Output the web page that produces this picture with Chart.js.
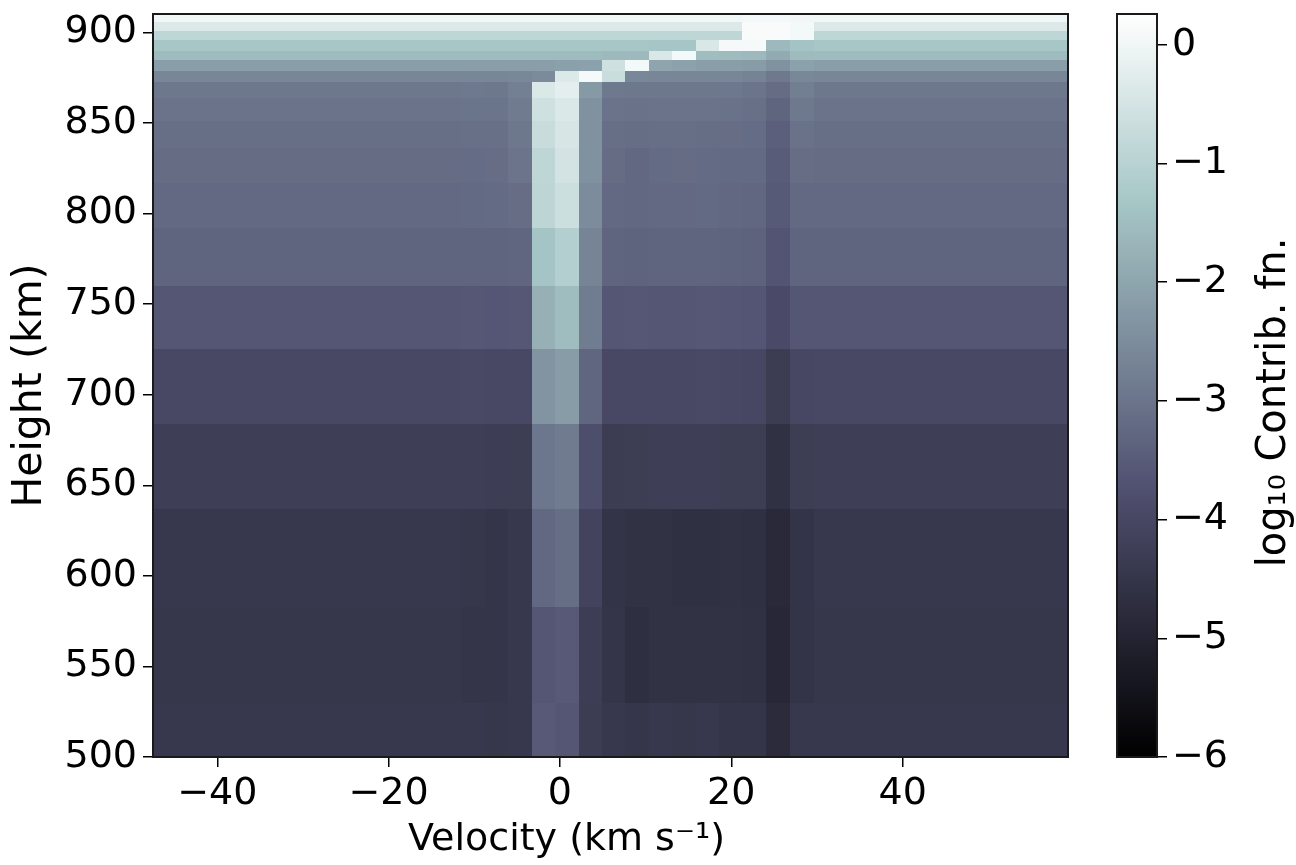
<!DOCTYPE html>
<html>
<head>
<meta charset="utf-8">
<script src="https://cdn.jsdelivr.net/npm/chart.js@4.4.1/dist/chart.umd.min.js"></script>
<style>
  body { margin: 0; background: #fff; }
  #wrap { position: relative; width: 1296px; height: 865px; }
  #heat { position: absolute; left: 0; top: 0; }
  #cbar { position: absolute; left: 1090px; top: 0; }
</style>
</head>
<body>
<div id="wrap">
  <canvas id="heat" width="1090" height="865"></canvas>
  <canvas id="cbar" width="206" height="865"></canvas>
</div>
<script>
// velocity band edges (km/s) and height band edges (km)
const velocityEdges = [-47.5, -14.3, -11.5, -8.8, -6.1, -3.3, -0.6, 2.2, 4.9, 7.6, 10.4, 13.1, 15.9, 18.6, 21.3, 24.1, 26.8, 29.6, 59.3];
const heightEdges = [500, 530, 583, 637, 684, 725, 760, 792, 817, 836, 851, 864, 872.5, 879, 884.6, 890, 895.7, 901, 906, 910.2];

// log10 contribution function, one row per height band (bottom up), one value per velocity band
const logCF = [
  [-4.45, -4.45, -4.45, -4.47, -4.45, -3.56, -3.63, -4.32, -4.45, -4.48, -4.45, -4.47, -4.45, -4.50, -4.52, -4.80, -4.45, -4.45],
  [-4.47, -4.47, -4.50, -4.50, -4.45, -3.63, -3.56, -4.29, -4.50, -4.67, -4.60, -4.60, -4.60, -4.60, -4.62, -4.90, -4.55, -4.47],
  [-4.45, -4.45, -4.47, -4.50, -4.45, -3.26, -3.14, -4.11, -4.55, -4.60, -4.60, -4.65, -4.65, -4.63, -4.65, -4.84, -4.55, -4.45],
  [-4.25, -4.25, -4.25, -4.28, -4.30, -2.97, -2.86, -3.83, -4.33, -4.30, -4.27, -4.25, -4.27, -4.30, -4.30, -4.62, -4.30, -4.25],
  [-3.97, -3.97, -3.95, -3.97, -3.99, -2.36, -2.19, -3.30, -3.99, -3.97, -3.99, -3.97, -3.95, -3.98, -4.00, -4.32, -4.00, -3.97],
  [-3.63, -3.63, -3.60, -3.62, -3.60, -1.79, -1.54, -2.85, -3.63, -3.60, -3.63, -3.63, -3.60, -3.62, -3.65, -3.91, -3.63, -3.63],
  [-3.34, -3.34, -3.32, -3.33, -3.30, -1.38, -1.09, -2.69, -3.34, -3.36, -3.34, -3.33, -3.34, -3.36, -3.38, -3.67, -3.34, -3.34],
  [-3.23, -3.23, -3.22, -3.20, -3.15, -0.93, -0.65, -2.52, -3.23, -3.25, -3.23, -3.23, -3.22, -3.25, -3.27, -3.55, -3.23, -3.23],
  [-3.18, -3.18, -3.17, -3.15, -3.01, -0.89, -0.53, -2.40, -3.18, -3.25, -3.20, -3.18, -3.20, -3.22, -3.22, -3.50, -3.15, -3.18],
  [-3.12, -3.12, -3.10, -3.10, -2.93, -0.71, -0.46, -2.40, -3.12, -3.14, -3.12, -3.12, -3.13, -3.15, -3.17, -3.44, -3.05, -3.12],
  [-3.03, -3.03, -3.02, -3.00, -2.87, -0.62, -0.38, -2.40, -3.03, -3.05, -3.03, -3.03, -3.04, -3.05, -3.10, -3.34, -2.90, -3.03],
  [-2.93, -2.93, -2.92, -2.93, -2.77, -0.38, -0.21, -2.24, -2.90, -2.93, -2.93, -2.93, -2.93, -2.95, -3.00, -3.18, -2.80, -2.93],
  [-2.64, -2.64, -2.63, -2.62, -2.60, -2.55, -0.36, 0.10, -0.70, -2.60, -2.64, -2.64, -2.62, -2.64, -2.70, -2.90, -2.60, -2.64],
  [-2.15, -2.15, -2.15, -2.15, -2.15, -2.15, -2.12, -2.10, -0.60, 0.05, -2.00, -2.10, -2.15, -2.15, -2.20, -2.40, -2.10, -2.15],
  [-1.56, -1.56, -1.56, -1.56, -1.56, -1.56, -1.56, -1.56, -1.60, -1.60, -0.40, 0.05, -1.50, -1.56, -1.60, -1.90, -1.56, -1.56],
  [-1.32, -1.32, -1.32, -1.32, -1.32, -1.32, -1.32, -1.32, -1.32, -1.32, -1.35, -1.35, -0.40, 0.10, 0.10, -1.60, -1.40, -1.32],
  [-0.89, -0.89, -0.89, -0.89, -0.89, -0.89, -0.89, -0.89, -0.89, -0.89, -0.89, -0.89, -0.89, -0.90, 0.15, 0.15, 0.05, -0.89],
  [-0.35, -0.35, -0.35, -0.35, -0.35, -0.35, -0.35, -0.35, -0.35, -0.35, -0.35, -0.35, -0.35, -0.35, 0.15, 0.15, 0.05, -0.35],
  [0.00, 0.00, 0.00, 0.00, 0.00, 0.00, 0.00, 0.00, 0.00, 0.00, 0.00, 0.00, 0.00, 0.00, 0.05, 0.05, 0.02, 0.00]
];

const velocityTicks = [-40, -20, 0, 20, 40];
const heightTicks = [500, 550, 600, 650, 700, 750, 800, 850, 900];
const cbarTicks = [-6, -5, -4, -3, -2, -1, 0];
const cMin = -6, cMax = 0.26;

// matplotlib "bone" colormap
function bone(t) {
  t = Math.max(0, Math.min(1, t));
  const r = t < 0.746032 ? 0.652778 * t / 0.746032 : 0.652778 + (t - 0.746032) * 0.347222 / 0.253968;
  const g = t < 0.365079 ? 0.319444 * t / 0.365079
    : t < 0.746032 ? 0.319444 + (t - 0.365079) * 0.458334 / 0.380953
    : 0.777778 + (t - 0.746032) * 0.222222 / 0.253968;
  const b = t < 0.365079 ? 0.444444 * t / 0.365079 : 0.444444 + (t - 0.365079) * 0.555556 / 0.634921;
  return `rgb(${Math.round(r * 255)},${Math.round(g * 255)},${Math.round(b * 255)})`;
}

const minus = v => String(v).replace('-', '\u2212');

Chart.defaults.font.family = 'DejaVu Sans';
Chart.defaults.font.size = 38;
Chart.defaults.color = '#000';
Chart.defaults.animation = false;

const cells = [];
logCF.forEach((row, i) => {
  row.forEach((v, j) => {
    cells.push({
      x: (velocityEdges[j] + velocityEdges[j + 1]) / 2,
      y: (heightEdges[i] + heightEdges[i + 1]) / 2,
      x0: velocityEdges[j], x1: velocityEdges[j + 1],
      y0: heightEdges[i], y1: heightEdges[i + 1],
      v: v
    });
  });
});

const heatPlugin = {
  id: 'heatCells',
  beforeDatasetsDraw(chart) {
    const { ctx, scales: { x, y } } = chart;
    ctx.save();
    chart.data.datasets[0].data.forEach(c => {
      const l = Math.round(x.getPixelForValue(c.x0)), r = Math.round(x.getPixelForValue(c.x1));
      const t = Math.round(y.getPixelForValue(c.y1)), b = Math.round(y.getPixelForValue(c.y0));
      ctx.fillStyle = bone((c.v - cMin) / (cMax - cMin));
      ctx.fillRect(l, t, r - l, b - t);
    });
    ctx.restore();
  },
  afterDatasetsDraw(chart) {
    const { ctx, chartArea: a } = chart;
    ctx.save();
    ctx.strokeStyle = '#1a1a1a';
    ctx.lineWidth = 2;
    ctx.strokeRect(a.left, a.top, a.width, a.height);
    // x axis title, sits a little left of the axis centre in the original
    ctx.font = '38px DejaVu Sans';
    ctx.fillStyle = '#000';
    ctx.textAlign = 'center';
    ctx.textBaseline = 'middle';
    ctx.fillText('Velocity (km s\u207B\u00B9)', (a.left + a.right) / 2 - 44, a.bottom + 83);
    ctx.restore();
  }
};

const tickGrid = { drawOnChartArea: false, drawTicks: true, tickLength: 10, color: '#000', lineWidth: 1.5 };
const noPad = s => { s.paddingTop = 0; s.paddingBottom = 0; s.paddingLeft = 0; s.paddingRight = 0; };

new Chart(document.getElementById('heat'), {
  type: 'scatter',
  data: { datasets: [{ data: cells, pointRadius: 0, pointHoverRadius: 0 }] },
  options: {
    responsive: false,
    devicePixelRatio: 1,
    layout: { padding: { top: 14, right: 22, left: 0, bottom: 0 } },
    plugins: { legend: { display: false }, tooltip: { enabled: false } },
    scales: {
      x: {
        type: 'linear', min: -47.5, max: 59.3,
        afterBuildTicks: s => { s.ticks = velocityTicks.map(v => ({ value: v })); },
        afterFit: s => { s.height = 108; noPad(s); },
        ticks: { padding: 4, maxRotation: 0, callback: v => minus(v) },
        grid: tickGrid,
        border: { display: false }
      },
      y: {
        type: 'linear', min: 500, max: 910.2,
        afterBuildTicks: s => { s.ticks = heightTicks.map(v => ({ value: v })); },
        afterFit: s => { s.width = 153; noPad(s); },
        ticks: { padding: 6 },
        grid: tickGrid,
        border: { display: false },
        title: { display: true, text: 'Height (km)', font: { size: 41 }, padding: { top: 6, bottom: 0 } }
      }
    }
  },
  plugins: [heatPlugin]
});

const cbarPlugin = {
  id: 'cbarFill',
  beforeDatasetsDraw(chart) {
    const { ctx, chartArea: a, scales: { y } } = chart;
    const g = ctx.createLinearGradient(0, y.getPixelForValue(cMin), 0, y.getPixelForValue(cMax));
    [0, 0.365079, 0.746032, 1].forEach(t => g.addColorStop(t, bone(t)));
    ctx.save();
    ctx.fillStyle = g;
    ctx.fillRect(a.left, a.top, a.width, a.height);
    ctx.restore();
  },
  afterDraw(chart) {
    const { ctx, chartArea: a } = chart;
    ctx.save();
    ctx.strokeStyle = '#1a1a1a';
    ctx.lineWidth = 2;
    ctx.strokeRect(a.left, a.top, a.width, a.height);
    ctx.translate(a.right + 118, (a.top + a.bottom) / 2 + 17);
    ctx.rotate(-Math.PI / 2);
    ctx.font = '40px DejaVu Sans';
    ctx.fillStyle = '#000';
    ctx.textAlign = 'center';
    ctx.textBaseline = 'middle';
    ctx.fillText('log\u2081\u2080 Contrib. fn.', 0, 0);
    ctx.restore();
  }
};

new Chart(document.getElementById('cbar'), {
  type: 'bar',
  data: { labels: [''], datasets: [] },
  options: {
    responsive: false,
    devicePixelRatio: 1,
    layout: { padding: { top: 14, right: 0, left: 27, bottom: 108 } },
    plugins: { legend: { display: false }, tooltip: { enabled: false } },
    scales: {
      x: { display: false },
      y: {
        position: 'right', min: cMin, max: cMax,
        afterBuildTicks: s => { s.ticks = cbarTicks.map(v => ({ value: v })); },
        afterFit: s => { s.width = 139; noPad(s); },
        ticks: { padding: 5, callback: v => minus(v) },
        grid: tickGrid,
        border: { display: false }
      }
    }
  },
  plugins: [cbarPlugin]
});
</script>
</body>
</html>
